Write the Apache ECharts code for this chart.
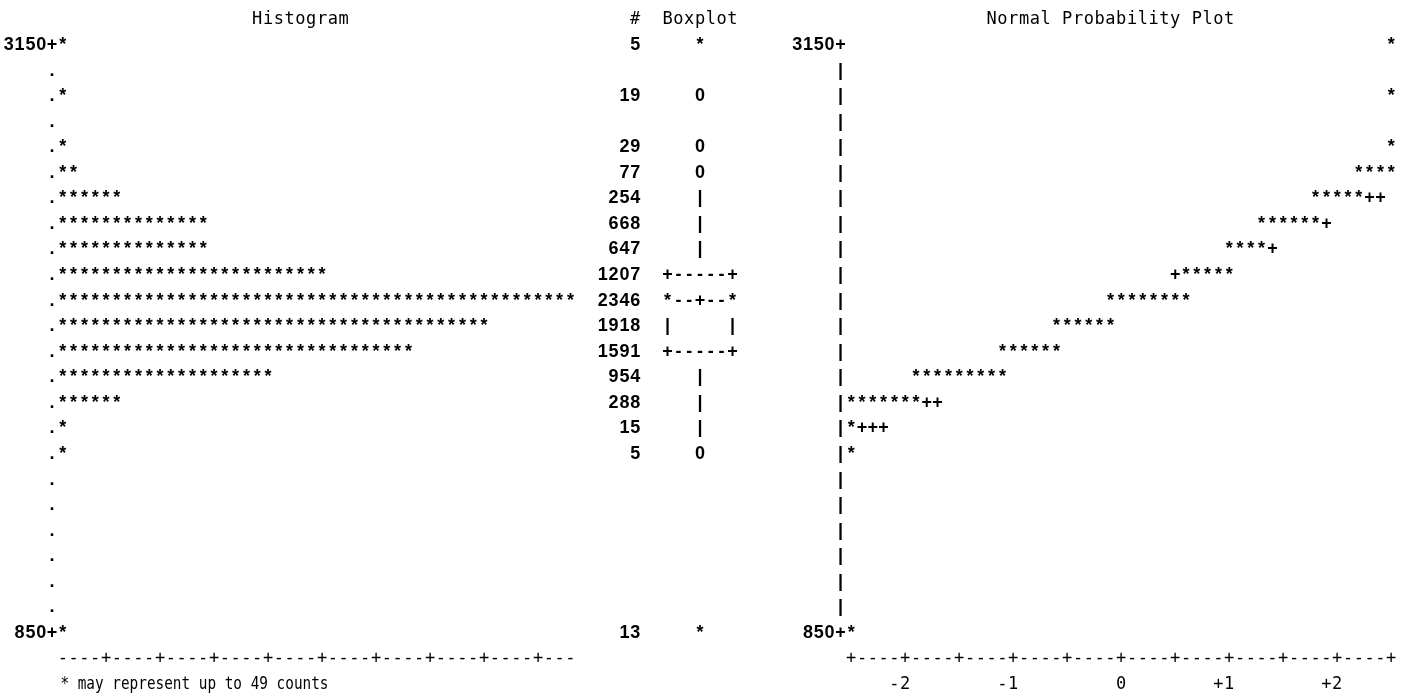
<!DOCTYPE html>
<html>
<head>
<meta charset="utf-8">
<script src="https://cdn.jsdelivr.net/npm/echarts@6/dist/echarts.min.js"></script>
<style>
html,body{margin:0;padding:0;background:#fff;}
#chart{width:1408px;height:696px;}
</style>
</head>
<body>
<div id="chart"></div>
<script>
// ---------------- data read from the listing ----------------
const rowValues = [3150,3050,2950,2850,2750,2650,2550,2450,2350,2250,2150,2050,1950,1850,1750,1650,1550,1450,1350,1250,1150,1050,950,850];
const histCounts = [5,0,19,0,29,77,254,668,647,1207,2346,1918,1591,954,288,15,5,0,0,0,0,0,0,13];
const countsPerStar = 49;
const yTickValues = [3150, 850];

const boxQuartiles = [1950, 2150, 2250];   // Q1, median, Q3
const boxMean = 2150;
const boxWhiskers = [1650, 2550];
const boxOutliers = [2950, 2750, 2650, 1550];
const boxExtremes = [3150, 850];

const npRowValues = [3150, 2950, 2750, 2650, 2550, 2450, 2350, 2250, 2150, 2050, 1950, 1850, 1750, 1650, 1550, 850];
const npZFrom     = [2.5,  2.5,  2.5,  2.2,  1.8,  1.3,  1.0,  0.6, -0.1, -0.6, -1.1, -1.9, -2.5, -2.5, -2.5, -2.5];
const npZTo       = [2.5,  2.5,  2.5,  2.5,  2.2,  1.8,  1.3,  1.0,  0.6, -0.1, -0.6, -1.1, -1.9, -2.5, -2.5, -2.5];

const refRowValues = [2550, 2450, 2350, 2250, 1750, 1650];
const refZFrom     = [2.3,  1.9,  1.4,  0.5, -1.8, -2.4];
const refZTo       = [2.4,  1.9,  1.4,  0.5, -1.7, -2.2];

const zTickValues = [-2, -1, 0, 1, 2];
const zTickLabels = ['-2', '-1', '0', '+1', '+2'];

// ---------------- layout (character grid) ----------------
const P = 10.8, X0 = 8.8, TOP = 45, HEIGHT = 588;
const colLeft = c => X0 + c * P - P / 2;
const DATA_FONT = 'bold 18px "Liberation Sans", Arial, sans-serif';
const MONO_FONT = '17px "DejaVu Sans Mono", monospace';

function glyphs(str, xFirst, y, step, font) {
  const out = [];
  for (let i = 0; i < str.length; i++) {
    const ch = str[i];
    if (ch === ' ') continue;
    out.push({
      type: 'text', x: xFirst + i * step, y: y,
      style: { text: ch, font: font, fill: '#000', align: 'center', verticalAlign: 'middle' }
    });
  }
  return out;
}

const chart = echarts.init(document.getElementById('chart'));

const histSeries = {
  type: 'custom', xAxisIndex: 0, yAxisIndex: 0, clip: false,
  data: rowValues.map((v, i) => [histCounts[i], v]),
  renderItem(params, api) {
    const count = api.value(0), v = api.value(1);
    const p = api.coord([0, v]);
    const step = api.size([countsPerStar, 0])[0];
    const col = c => p[0] + (c - 5 + 0.5) * step;
    const kids = [];
    const lab = yTickValues.indexOf(v) >= 0 ? v + '+' : '.';
    kids.push(...glyphs(lab, col(4 - lab.length + 1), p[1], step, DATA_FONT));
    const n = Math.ceil(count / countsPerStar);
    if (n > 0) {
      const s0 = api.coord([countsPerStar * 0.5, v]);
      kids.push(...glyphs('*'.repeat(n), s0[0], p[1], step, DATA_FONT));
    }
    if (count > 0) {
      const s = String(count);
      kids.push(...glyphs(s, col(58 - s.length + 1), p[1], step, DATA_FONT));
    }
    return { type: 'group', children: kids };
  }
};

const histDecor = {
  type: 'custom', xAxisIndex: 0, yAxisIndex: 0, clip: false,
  data: [[0, 850]],
  renderItem(params, api) {
    const p = api.coord([0, 850]);
    const top = api.coord([0, 3150]);
    const row = api.size([0, 100])[1];
    const step = api.size([countsPerStar, 0])[0];
    const col = c => p[0] + (c - 5 + 0.5) * step;
    const kids = [];
    kids.push(...glyphs('Histogram', col(23), top[1] - row, step, MONO_FONT));
    kids.push(...glyphs('#  Boxplot', col(58), top[1] - row, step, MONO_FONT));
    kids.push(...glyphs('----+----+----+----+----+----+----+----+----+---', col(5), p[1] + row, step, MONO_FONT));
    kids.push({
      type: 'text', x: p[0] + 3, y: p[1] + 2 * row, scaleX: 0.845,
      style: { text: '* may represent up to ' + countsPerStar + ' counts', font: MONO_FONT, fill: '#000', align: 'left', verticalAlign: 'middle' }
    });
    return { type: 'group', children: kids };
  }
};

function boxString(v) {
  const [q1, med, q3] = boxQuartiles;
  if (boxExtremes.indexOf(v) >= 0) return '   *   ';
  if (boxOutliers.indexOf(v) >= 0) return '   0   ';
  if (v === med) return v === boxMean ? '*--+--*' : '*-----*';
  if (v === q1 || v === q3) return '+-----+';
  if (v > q1 && v < q3) return '|     |';
  if ((v >= boxWhiskers[0] && v < q1) || (v > q3 && v <= boxWhiskers[1])) return '   |   ';
  return '';
}

const boxSeries = {
  type: 'custom', xAxisIndex: 1, yAxisIndex: 1, clip: false,
  data: rowValues.map(v => [0, v]),
  renderItem(params, api) {
    const v = api.value(1);
    const p = api.coord([0, v]);
    const step = api.size([1, 0])[0];
    return { type: 'group', children: glyphs(boxString(v), p[0], p[1], step, DATA_FONT) };
  }
};

const npAxisSeries = {
  type: 'custom', xAxisIndex: 2, yAxisIndex: 2, clip: false,
  data: rowValues.map(v => [-2.5, v]),
  renderItem(params, api) {
    const v = api.value(1);
    const p = api.coord([-2.5, v]);
    const step = api.size([0.1, 0])[0];
    const lab = yTickValues.indexOf(v) >= 0 ? v + '+' : '|';
    return { type: 'group', children: glyphs(lab, p[0] - lab.length * step, p[1], step, DATA_FONT) };
  }
};

const npStarSeries = {
  type: 'custom', xAxisIndex: 2, yAxisIndex: 2, clip: false,
  data: npRowValues.map((v, i) => [npZFrom[i], v, npZTo[i]]),
  renderItem(params, api) {
    const z0 = api.value(0), v = api.value(1), z1 = api.value(2);
    const p = api.coord([z0, v]);
    const step = api.size([0.1, 0])[0];
    const n = Math.round((z1 - z0) / 0.1) + 1;
    return { type: 'group', children: glyphs('*'.repeat(n), p[0], p[1], step, DATA_FONT) };
  }
};

const npRefSeries = {
  type: 'custom', xAxisIndex: 2, yAxisIndex: 2, clip: false,
  data: refRowValues.map((v, i) => [refZFrom[i], v, refZTo[i]]),
  renderItem(params, api) {
    const z0 = api.value(0), v = api.value(1), z1 = api.value(2);
    const p = api.coord([z0, v]);
    const step = api.size([0.1, 0])[0];
    const n = Math.round((z1 - z0) / 0.1) + 1;
    return { type: 'group', children: glyphs('+'.repeat(n), p[0], p[1], step, DATA_FONT) };
  }
};

const npDecor = {
  type: 'custom', xAxisIndex: 2, yAxisIndex: 2, clip: false,
  data: [[-2.5, 850]],
  renderItem(params, api) {
    const p = api.coord([-2.5, 850]);
    const top = api.coord([-2.5, 3150]);
    const row = api.size([0, 100])[1];
    const step = api.size([0.1, 0])[0];
    const kids = [];
    kids.push(...glyphs('Normal Probability Plot', p[0] + 13 * step, top[1] - row, step, MONO_FONT));
    kids.push(...glyphs('+----+----+----+----+----+----+----+----+----+----+', p[0], p[1] + row, step, MONO_FONT));
    zTickValues.forEach((z, i) => {
      const q = api.coord([z, 850]);
      const s = zTickLabels[i];
      kids.push(...glyphs(s, q[0] - (s.length - 1) * step, p[1] + 2 * row, step, MONO_FONT));
    });
    return { type: 'group', children: kids };
  }
};

const gridBase = { top: TOP, height: HEIGHT, containLabel: false, outerBoundsMode: 'none' };
const yAxisBase = { type: 'value', min: 850, max: 3150, show: false };

chart.setOption({
  animation: false,
  backgroundColor: '#fff',
  grid: [
    Object.assign({ left: colLeft(5), width: 48 * P }, gridBase),
    Object.assign({ left: colLeft(61), width: 7 * P }, gridBase),
    Object.assign({ left: X0 + 78 * P, width: 50 * P }, gridBase)
  ],
  xAxis: [
    { type: 'value', gridIndex: 0, min: 0, max: 48 * countsPerStar, show: false },
    { type: 'value', gridIndex: 1, min: -0.5, max: 6.5, show: false },
    { type: 'value', gridIndex: 2, min: -2.5, max: 2.5, show: false }
  ],
  yAxis: [
    Object.assign({ gridIndex: 0 }, yAxisBase),
    Object.assign({ gridIndex: 1 }, yAxisBase),
    Object.assign({ gridIndex: 2 }, yAxisBase)
  ],
  series: [histSeries, histDecor, boxSeries, npAxisSeries, npRefSeries, npStarSeries, npDecor]
});
</script>
</body>
</html>
